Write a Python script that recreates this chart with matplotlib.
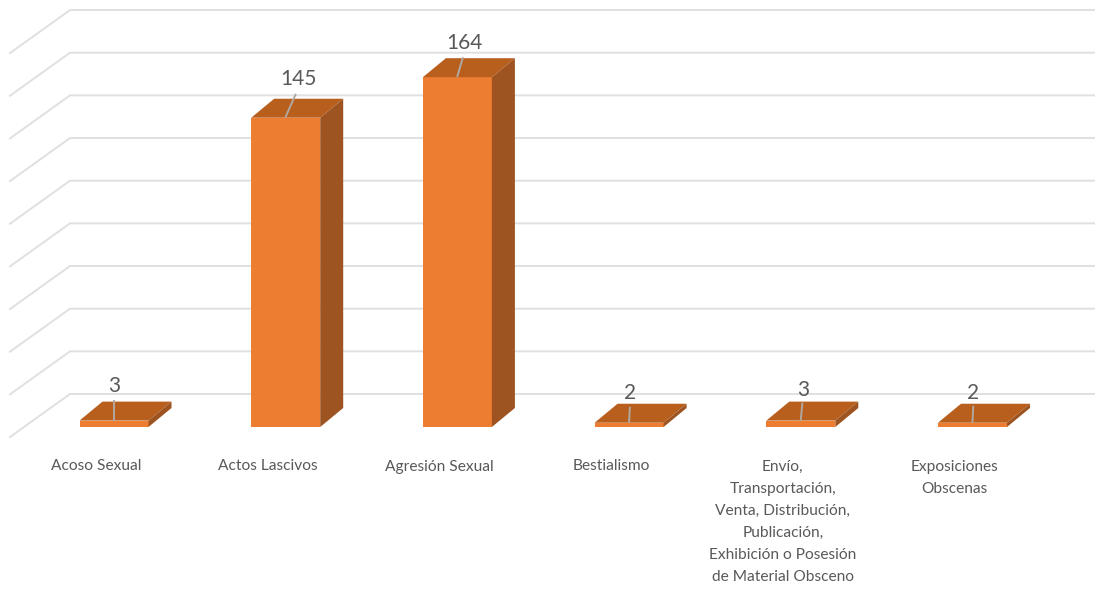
import numpy as np
import matplotlib
import matplotlib.pyplot as plt
from matplotlib.patches import Polygon

matplotlib.use('Agg')

categories = ["Acoso Sexual", "Actos Lascivos", "Agresión Sexual", "Bestialismo",
              "Envío,\nTransportación,\nVenta, Distribución,\nPublicación,\nExhibición o Posesión\nde Material Obsceno",
              "Exposiciones\nObscenas"]
values = [3, 145, 164, 2, 3, 2]
grid_values = [0, 20, 40, 60, 80, 100, 120, 140, 160, 180]

#------------------------------------------------
# pixel layout of the fake 3d box
W, H = 1095, 590
x0, dx = 114.0, 171.7      # first category centre, spacing
y0, sy = 427.0, 2.133      # front of bar at value 0, px per value unit
half = 34.5                # half bar width
depth_x, depth_y = 23.0, 19.0
wall_x0, wall_x1 = 10.0, 70.0
wall_front, wall_back = 437.0, 394.0

fig = plt.figure(figsize=(W/100, H/100), dpi=100)
ax = fig.add_axes([0, 0, 1, 1])
ax.set_xlim(-x0/dx, (W-x0)/dx)
ax.set_ylim(-(H-y0)/sy, y0/sy)
ax.axis('off')

ux = 1.0/dx
uy = 1.0/sy

# gridlines: side wall then back wall
for v in grid_values:
  ax.plot([wall_x0*ux - x0*ux, wall_x1*ux - x0*ux, (W-x0)/dx],
          [v + (y0-wall_front)*uy, v + (y0-wall_back)*uy, v + (y0-wall_back)*uy],
          color="#e0e0e0", lw=1.4, zorder=1, solid_joinstyle='miter')

# label offsets from top of front face, px
lab_dx = [0, 13, 7, 1, 2, 1]
lab_dy = [35, 39, 34, 30, 31, 30]
lead_dy = [20, 23, 19, 15, 17, 16]

for i, v in enumerate(values):
  l, r = i - half*ux, i + half*ux
  ddx, ddy = depth_x*ux, depth_y*uy
  ax.add_patch(Polygon([(l, 0), (r, 0), (r, v), (l, v)], fc="#ed7d31", ec="none", zorder=3))
  ax.add_patch(Polygon([(l, v), (r, v), (r+ddx, v+ddy), (l+ddx, v+ddy)], fc="#b85f1e", ec="none", zorder=3))
  ax.add_patch(Polygon([(r, 0), (r+ddx, ddy), (r+ddx, v+ddy), (r, v)], fc="#9e5420", ec="none", zorder=3))
  # leader line
  ax.plot([i, i + lab_dx[i]*0.75*ux], [v + 1.0*uy, v + lead_dy[i]*uy],
          color="#b0a89f", lw=1.4, zorder=4)
  ax.text(i + lab_dx[i]*ux, v + lab_dy[i]*uy, str(v), ha="center", va="center",
          fontsize=15, family="Lato", color="#595959", zorder=5)
  ax.text(i - 18*ux, -32.5*uy, categories[i], ha="center", va="top", fontsize=11.2,
          family="Lato", color="#595959", linespacing=1.735, zorder=5)

plt.savefig("out.png", dpi=100)
